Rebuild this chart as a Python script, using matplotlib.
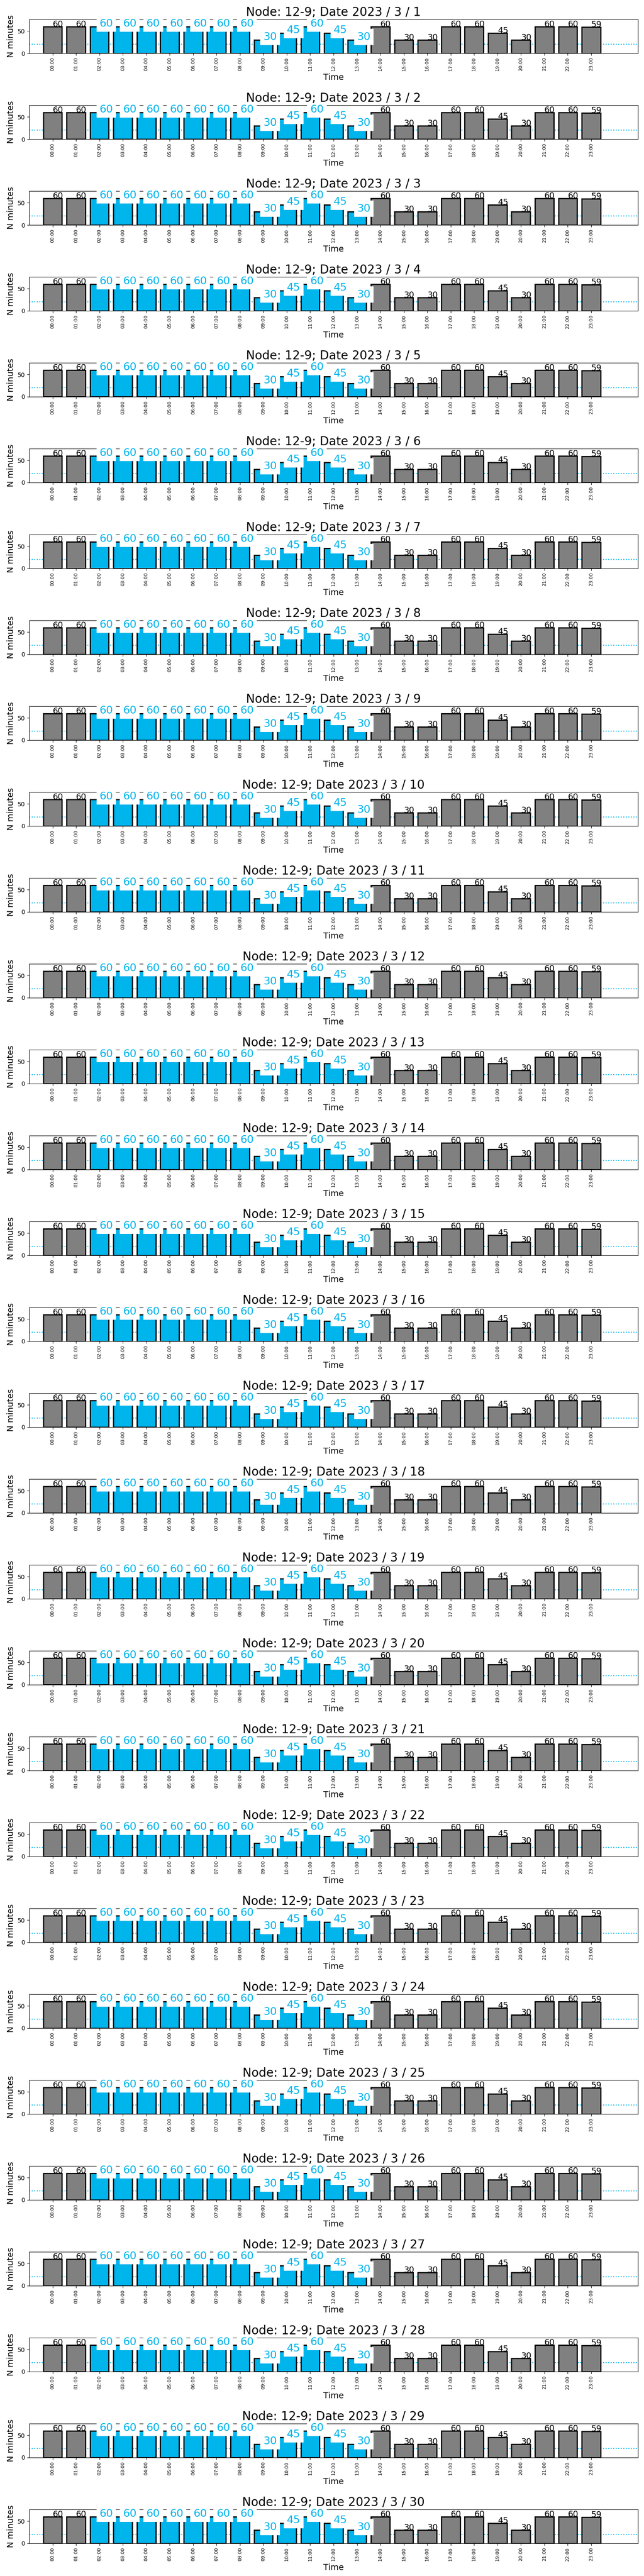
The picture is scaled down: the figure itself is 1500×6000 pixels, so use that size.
import matplotlib
matplotlib.use("Agg")
import matplotlib.pyplot as plt

# ---- data ----
node = "12-9"
year = 2023
month = 3
days = [1, 2, 3, 4, 5, 6, 7, 8, 9, 10, 11, 12, 13, 14, 15,
        16, 17, 18, 19, 20, 21, 22, 23, 24, 25, 26, 27, 28, 29, 30]
hour_labels = ["00:00", "01:00", "02:00", "03:00", "04:00", "05:00",
               "06:00", "07:00", "08:00", "09:00", "10:00", "11:00",
               "12:00", "13:00", "14:00", "15:00", "16:00", "17:00",
               "18:00", "19:00", "20:00", "21:00", "22:00", "23:00"]
minutes = [60, 60, 60, 60, 60, 60, 60, 60, 60, 30, 45, 60,
           45, 30, 60, 30, 30, 60, 60, 45, 30, 60, 60, 59]
highlight = [False, False, True, True, True, True, True, True, True, True, True, True,
             True, True, False, False, False, False, False, False, False, False, False, False]
threshold = 20

BLUE = "#00B4EC"
GRAY = "#808080"

W, H = 1500, 6000
fig, axes = plt.subplots(len(days), 1, figsize=(15, 60), dpi=100)
fig.subplots_adjust(left=68 / W, right=1486 / W, top=1 - 45 / H, bottom=76 / H,
                    hspace=121 / 79)

x = list(range(len(hour_labels)))
colors = [BLUE if h else GRAY for h in highlight]

for ax, d in zip(axes, days):
    ax.axhline(threshold, color=BLUE, linestyle=":", linewidth=1.6, zorder=0.5)
    ax.bar(x, minutes, width=0.8, color=colors, edgecolor="black", linewidth=2, zorder=1)
    for xi, v, h in zip(x, minutes, highlight):
        if h:
            ax.text(xi, v, str(v), ha="left", va="baseline", fontsize=18, color=BLUE,
                    bbox=dict(facecolor="white", edgecolor="none", pad=5), zorder=3)
        else:
            ax.text(xi, v, str(v), ha="left", va="baseline", fontsize=14, color="black",
                    zorder=3)
    ax.set_xlim(-1, 25)
    ax.set_ylim(0, 76)
    ax.set_yticks([0, 50])
    ax.tick_params(axis="y", labelsize=10)
    ax.set_xticks(x)
    ax.set_xticklabels(hour_labels, rotation=90, fontsize=8)
    ax.set_ylabel("N minutes", fontsize=14)
    ax.set_xlabel("Time", fontsize=14)
    ax.set_title(f"Node: {node}; Date {year} / {month} / {d}", fontsize=20)

fig.savefig("out.png", dpi=100)
